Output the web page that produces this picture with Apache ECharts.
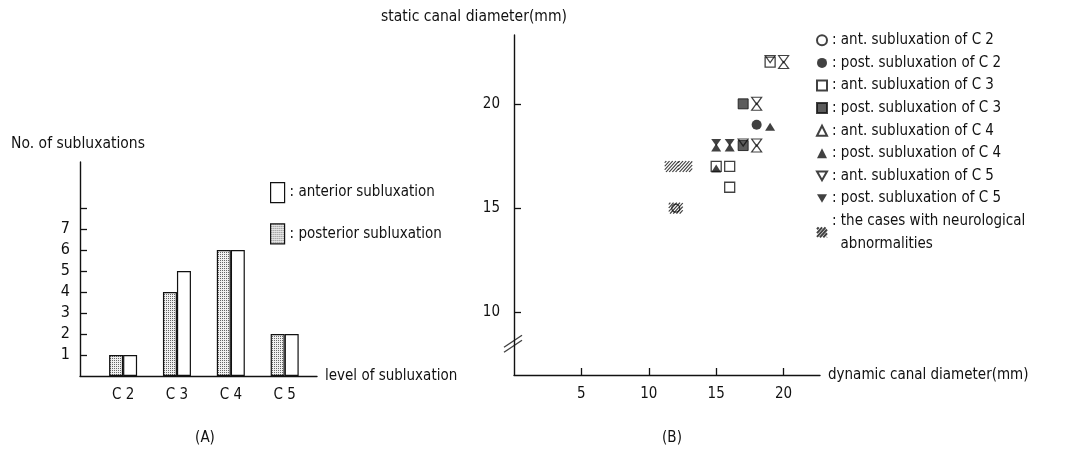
<!DOCTYPE html>
<html>
<head>
<meta charset="utf-8">
<script src="https://cdn.jsdelivr.net/npm/echarts@6/dist/echarts.min.js"></script>
<style>html,body{margin:0;padding:0;background:#fff}#c{width:1073px;height:451px}</style>
</head>
<body>
<div id="c"></div>
<script>
// ---------- Panel A data ----------
const levels = ['C 2', 'C 3', 'C 4', 'C 5'];
const anteriorCounts = [1, 5, 6, 2];
const posteriorCounts = [1, 4, 6, 2];
const countTicks = [1, 2, 3, 4, 5, 6, 7, 8];
const countLabels = [1, 2, 3, 4, 5, 6, 7];

// ---------- Panel B data ([dynamic, static] mm) ----------
const antC2 = [[12, 15]];
const postC2 = [[18, 19]];
const antC3 = [[19, 22], [15, 17], [16, 17], [16, 16]];
const postC3 = [[17, 20], [17, 18]];
const antC4 = [[20, 22], [18, 20], [18, 18]];
const postC4 = [[19, 19], [15, 18], [16, 18], [15, 17]];
const antC5 = [[19, 22], [20, 22], [18, 20], [18, 18], [17, 18]];
const postC5 = [[15, 18], [16, 18]];
const neuro = [[11.7, 17], [12.7, 17], [12, 15]];
const dynTicks = [5, 10, 15, 20];
const staticTicks = [10, 15, 20];
const breakAt = [[0, 8.5]];

const FONT = "'Liberation Sans Narrow', 'DejaVu Sans Condensed', 'Liberation Sans', sans-serif";
const INK = '#111';

function makePattern(w, h, draw) {
  const c = document.createElement('canvas');
  c.width = w; c.height = h;
  const ctx = c.getContext('2d');
  draw(ctx);
  return { image: c, repeat: 'repeat' };
}
const dotted = makePattern(2, 2, ctx => {
  ctx.fillStyle = '#f0f0f0'; ctx.fillRect(0, 0, 2, 2);
  ctx.fillStyle = '#666'; ctx.fillRect(0, 0, 1, 1);
});

// diagonal hatch drawn as a vector symbol path
function hatchPath(w, h, step, slope) {
  let d = 'M0,0L0,0M' + w + ',' + h + 'L' + w + ',' + h;
  const run = h * slope;
  for (let c = -run + step / 2; c < w; c += step) {
    const tmin = Math.max(0, -c / run), tmax = Math.min(1, (w - c) / run);
    if (tmin < tmax) {
      const x0 = c + tmin * run, y0 = h - tmin * h, x1 = c + tmax * run, y1 = h - tmax * h;
      d += 'M' + x0.toFixed(2) + ',' + y0.toFixed(2) + 'L' + x1.toFixed(2) + ',' + y1.toFixed(2);
    }
  }
  return 'path://' + d;
}
const HATCH = hatchPath(14, 11, 3.2, 0.9);
const HATCH_ICON = hatchPath(10, 10, 3.4, 0.9);
const DOWN_TRI = 'path://M0,0L10,0L5,8.66Z';

const chart = echarts.init(document.getElementById('c'), null, { renderer: 'canvas' });

const axisLine = { show: true, lineStyle: { color: INK, width: 1.4 } };
const txt = size => ({ fontSize: size, fontFamily: FONT, color: INK });

const option = {
  backgroundColor: '#fff',
  animation: false,
  textStyle: { fontFamily: FONT, color: INK },
  title: [
    { text: '(A)', left: 200, top: 426, textAlign: 'center', textStyle: Object.assign(txt(15), { fontWeight: 'normal' }) },
    { text: '(B)', left: 667, top: 426, textAlign: 'center', textStyle: Object.assign(txt(15), { fontWeight: 'normal' }) }
  ],
  grid: [
    { left: 80, top: 162, width: 237, height: 214 },
    { left: 514, top: 35, width: 306, height: 340 }
  ],
  legend: [
    {
      left: 265, top: 177, orient: 'vertical', itemWidth: 14, itemHeight: 20, itemGap: 20,
      data: ['anterior subluxation', 'posterior subluxation'],
      icon: 'rect',
      formatter: n => ': ' + n,
      textStyle: txt(15),
      itemStyle: { borderColor: INK, borderWidth: 1.2 }
    },
    {
      left: 811, top: 24, orient: 'vertical', itemWidth: 10, itemHeight: 10, itemGap: 0,
      data: [
        { name: 'ant. subluxation of C 2' },
        { name: 'post. subluxation of C 2' },
        { name: 'ant. subluxation of C 3' },
        { name: 'post. subluxation of C 3' },
        { name: 'ant. subluxation of C 4' },
        { name: 'post. subluxation of C 4' },
        { name: 'ant. subluxation of C 5', icon: DOWN_TRI },
        { name: 'post. subluxation of C 5', icon: DOWN_TRI },
        { name: 'the cases with neurological', icon: HATCH_ICON }
      ],
      formatter: n => n === 'the cases with neurological' ? ': ' + n + '\n  abnormalities' : ': ' + n,
      textStyle: Object.assign(txt(15), { lineHeight: 22.6 })
    }
  ],
  xAxis: [
    {
      gridIndex: 0, type: 'value', min: 0.2, max: 4.6,
      name: 'level of subluxation', nameLocation: 'end', nameGap: 8,
      nameTextStyle: Object.assign(txt(15), { verticalAlign: 'middle' }),
      axisLine: axisLine, splitLine: { show: false },
      axisTick: { show: false },
      axisLabel: Object.assign(txt(15), { customValues: [1, 2, 3, 4], formatter: v => levels[Math.round(v) - 1], margin: 12 })
    },
    {
      gridIndex: 1, type: 'value', min: 0, max: 22.7,
      name: 'dynamic canal diameter(mm)', nameLocation: 'end', nameGap: 8,
      nameTextStyle: Object.assign(txt(15), { verticalAlign: 'middle' }),
      axisLine: axisLine, splitLine: { show: false },
      axisTick: { show: true, inside: true, length: 7, customValues: dynTicks, lineStyle: { color: INK, width: 1.3 } },
      axisLabel: Object.assign(txt(15), { customValues: dynTicks, margin: 12 })
    }
  ],
  yAxis: [
    {
      gridIndex: 0, type: 'value', min: 0, max: 10.2,
      name: 'No. of subluxations', nameLocation: 'end', nameGap: 10,
      nameTextStyle: Object.assign(txt(15.5), { padding: [0, 4, 0, 0] }),
      axisLine: axisLine, splitLine: { show: false },
      axisTick: { show: true, inside: true, length: 7, customValues: countTicks, lineStyle: { color: INK, width: 1.3 } },
      axisLabel: Object.assign(txt(16), { customValues: countLabels, margin: 10 })
    },
    {
      gridIndex: 1, type: 'value', min: 7, max: 23.3,
      name: 'static canal diameter(mm)', nameLocation: 'end', nameGap: 10,
      nameTextStyle: Object.assign(txt(15.5), { padding: [0, 80, 0, 0] }),
      axisLine: axisLine, splitLine: { show: false },
      axisTick: { show: true, inside: true, length: 7, customValues: staticTicks, lineStyle: { color: INK, width: 1.3 } },
      axisLabel: Object.assign(txt(15), { customValues: staticTicks, margin: 14 })
    }
  ],
  series: [
    {
      name: 'posterior subluxation', type: 'bar', xAxisIndex: 0, yAxisIndex: 0,
      barWidth: 14, barGap: '0%',
      data: posteriorCounts.map((v, i) => [i + 1, v]),
      itemStyle: { color: dotted, borderColor: INK, borderWidth: 1.2 }
    },
    {
      name: 'anterior subluxation', type: 'bar', xAxisIndex: 0, yAxisIndex: 0,
      barWidth: 14, barGap: '0%',
      data: anteriorCounts.map((v, i) => [i + 1, v]),
      itemStyle: { color: '#fff', borderColor: INK, borderWidth: 1.2 }
    },
    {
      name: 'the cases with neurological', type: 'scatter', xAxisIndex: 1, yAxisIndex: 1,
      symbol: HATCH, symbolSize: [14, 11], data: neuro, z: 6,
      itemStyle: { color: 'rgba(0,0,0,0)', borderColor: INK, borderWidth: 1.1 }
    },
    { name: 'ant. subluxation of C 2', type: 'scatter', xAxisIndex: 1, yAxisIndex: 1, symbol: 'circle', symbolSize: 8, data: antC2, z: 0,
      itemStyle: { color: '#fff', borderColor: INK, borderWidth: 1.2 } },
    { name: 'post. subluxation of C 2', type: 'scatter', xAxisIndex: 1, yAxisIndex: 1, symbol: 'circle', symbolSize: 10, data: postC2,
      itemStyle: { color: INK } },
    { name: 'ant. subluxation of C 3', type: 'scatter', xAxisIndex: 1, yAxisIndex: 1, symbol: 'rect', symbolSize: 10, data: antC3,
      itemStyle: { color: '#fff', borderColor: INK, borderWidth: 1.3 } },
    { name: 'post. subluxation of C 3', type: 'scatter', xAxisIndex: 1, yAxisIndex: 1, symbol: 'rect', symbolSize: 10, data: postC3,
      itemStyle: { color: '#333', borderColor: INK, borderWidth: 1 } },
    { name: 'ant. subluxation of C 4', type: 'scatter', xAxisIndex: 1, yAxisIndex: 1, symbol: 'triangle', symbolSize: [10, 7], symbolOffset: [0, 3], data: antC4, z: 3,
      itemStyle: { color: '#fff', borderColor: INK, borderWidth: 1.2 } },
    { name: 'post. subluxation of C 4', type: 'scatter', xAxisIndex: 1, yAxisIndex: 1, symbol: 'triangle', symbolSize: [10, 8], symbolOffset: [0, 2], data: postC4, z: 4,
      itemStyle: { color: INK } },
    { name: 'ant. subluxation of C 5', type: 'scatter', xAxisIndex: 1, yAxisIndex: 1, symbol: 'triangle', symbolRotate: 180, symbolSize: [10, 7], symbolOffset: [0, -3], data: antC5, z: 3,
      itemStyle: { color: 'rgba(255,255,255,0)', borderColor: INK, borderWidth: 1.2 } },
    { name: 'post. subluxation of C 5', type: 'scatter', xAxisIndex: 1, yAxisIndex: 1, symbol: 'triangle', symbolRotate: 180, symbolSize: [10, 7], symbolOffset: [0, -3], data: postC5, z: 4,
      itemStyle: { color: INK } },
    {
      name: 'axis break', type: 'scatter', xAxisIndex: 1, yAxisIndex: 1, silent: true, legendHoverLink: false,
      symbol: 'path://M0,12 L18,0 M0,17 L18,5', symbolSize: [18, 17], symbolOffset: [-1, 0], data: breakAt, z: 5,
      itemStyle: { color: 'rgba(0,0,0,0)', borderColor: INK, borderWidth: 1.3 }
    }
  ]
};
chart.setOption(option);
</script>
</body>
</html>
